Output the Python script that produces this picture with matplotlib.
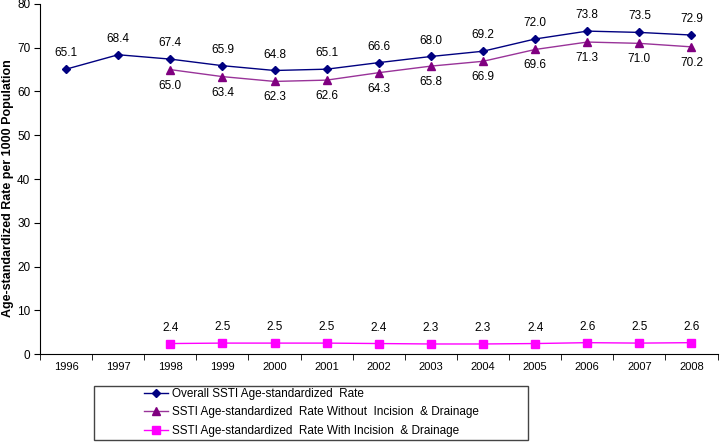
import matplotlib.pyplot as plt
from matplotlib.patches import Rectangle
import numpy as np

plt.rcParams['font.family'] = ['Liberation Sans', 'DejaVu Sans']

years = ["1996", "1997", "1998", "1999", "2000", "2001", "2002",
         "2003", "2004", "2005", "2006", "2007", "2008"]
overall = [65.1, 68.4, 67.4, 65.9, 64.8, 65.1, 66.6, 68.0, 69.2, 72.0, 73.8, 73.5, 72.9]
without_id = [None, None, 65.0, 63.4, 62.3, 62.6, 64.3, 65.8, 66.9, 69.6, 71.3, 71.0, 70.2]
with_id = [None, None, 2.4, 2.5, 2.5, 2.5, 2.4, 2.3, 2.3, 2.4, 2.6, 2.5, 2.6]

labels = ["Overall SSTI Age-standardized  Rate",
          "SSTI Age-standardized  Rate Without  Incision  & Drainage",
          "SSTI Age-standardized  Rate With Incision  & Drainage"]

x = np.arange(len(years))


def series(vals):
    return np.array([np.nan if v is None else v for v in vals], dtype=float)


fig = plt.figure(figsize=(7.2, 4.42), dpi=100)
ax = fig.add_axes([0.0556, 0.199, 0.941, 0.792])

l1, = ax.plot(x, series(overall), color="#000080", marker="D", markersize=4.5, lw=1)
l2, = ax.plot(x, series(without_id), color="#993399", marker="^", markersize=6, lw=1,
              markerfacecolor="#800080", markeredgecolor="#800080")
l3, = ax.plot(x, series(with_id), color="#FF00FF", marker="s", markersize=6, lw=1)

fs = 8.5
for i, v in enumerate(overall):
    ax.annotate(f"{v:.1f}", (i, v), xytext=(0, 11.5), textcoords="offset points",
                ha="center", va="center", fontsize=fs)
for i, v in enumerate(without_id):
    if v is not None:
        ax.annotate(f"{v:.1f}", (i, v), xytext=(0, -11.5), textcoords="offset points",
                    ha="center", va="center", fontsize=fs)
for i, v in enumerate(with_id):
    if v is not None:
        ax.annotate(f"{v:.1f}", (i, v), xytext=(0, 11.5), textcoords="offset points",
                    ha="center", va="center", fontsize=fs)

ax.set_xlim(-0.5, len(years) - 0.5)
ax.set_ylim(0, 80)
ax.set_yticks(range(0, 81, 10))
ax.set_xticks(x)
ax.set_xticklabels(years, fontsize=8)
ax.set_xticks(np.arange(-0.5, len(years), 1), minor=True)
ax.tick_params(axis="x", which="major", length=0, pad=6)
ax.tick_params(axis="x", which="minor", length=4, direction="out")
ax.tick_params(axis="y", length=4, direction="out", labelsize=8.5, pad=3)

ax.spines["top"].set_visible(False)
ax.spines["right"].set_visible(False)
ax.set_ylabel("Age-standardized Rate per 1000 Population", fontsize=9, fontweight="bold")
ax.yaxis.set_label_coords(-0.039, 0.474)

# legend box drawn separately so the entries can sit indented like the original
fig.patches.append(Rectangle((0.1306, 0.0045), 0.603, 0.122, transform=fig.transFigure,
                             fill=False, edgecolor="#444444", linewidth=1))
fig.legend([l1, l2, l3], labels, loc="upper left",
           bbox_to_anchor=(144 / 720, 1 - 388 / 442), bbox_transform=fig.transFigure,
           fontsize=8.5, frameon=False, borderpad=0, borderaxespad=0,
           handlelength=2.0, handletextpad=0.35, labelspacing=0.55)

fig.savefig("out.png", dpi=100)
